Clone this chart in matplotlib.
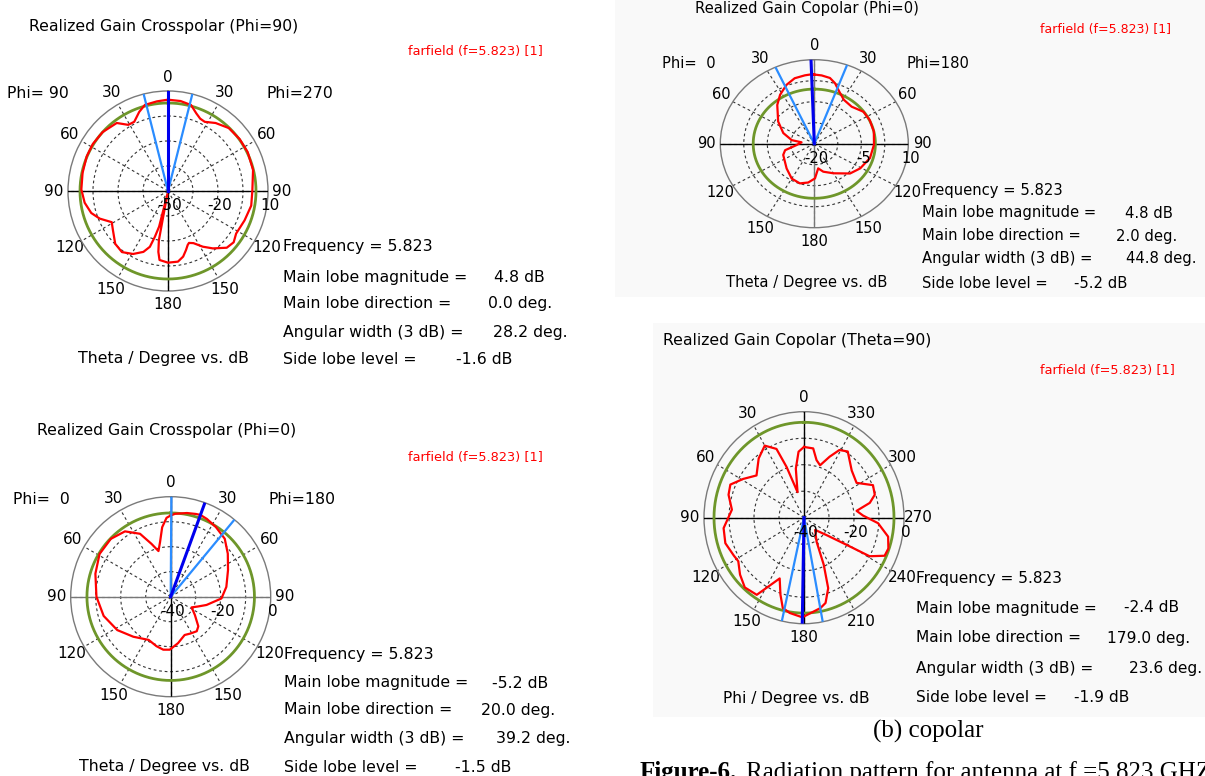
import numpy as np
import matplotlib.pyplot as plt
from matplotlib.patches import Rectangle

W, H = 1205, 776

# ---- far-field cuts: angle in degrees, realized gain in dB ----
# crosspolar, Phi=90/270 cut (theta, clockwise from the top of the plot)
theta_x90 = [0, 8, 15, 20, 24, 28, 35, 44, 54, 64,
             76, 90, 100, 111, 122, 128, 134, 142, 148, 154,
             158, 160, 163, 167, 172, 180, 187, 189, 190.5, 191.5,
             194, 196, 198, 202, 209, 217, 225, 235, 241, 248,
             254, 262, 271, 282, 293, 302, 312, 323, 329, 334,
             340, 345, 353, 360]
gain_x90 = [4.8, 4.5, 3.4, -0.4, -2.5, -3.0, -0.2, 2.5, 3.1, 3.2,
            2.6, 0.6, 0.7, -0.8, -1.8, 0.0, -1.0, -6.3, -10.6, -15.2,
            -16.4, -15.5, -13.0, -9.6, -7.2, -7.0, -8.3, -13.0, -20.0, -48.0,
            -28.0, -21.4, -14.8, -10.6, -6.8, -4.1, -5.2, -9.6, -11.4, -5.8,
            -2.1, 0.5, 2.0, 2.4, 3.0, 3.2, 2.8, 1.1, -3.7, -3.8,
            0.5, 3.5, 4.2, 4.8]

# crosspolar, Phi=0/180 cut
theta_x0 = [0, 3, 11, 17, 20, 25, 33, 43, 53, 65,
            80, 92, 103, 110, 117, 127, 137, 143, 152, 160,
            171, 181, 188, 196, 207, 223, 238, 254, 270, 287,
            301, 314, 325, 334, 340, 345, 349, 353, 357, 360]
gain_x0 = [-7.5, -6.8, -5.9, -5.4, -5.2, -5.7, -6.8, -8.3, -11.4, -14.7,
           -17.4, -19.7, -25.3, -28.5, -30.6, -27.9, -23.8, -22.7, -23.3, -23.7,
           -21.2, -18.8, -18.6, -19.4, -20.6, -18.1, -14.8, -12.1, -10.3, -8.5,
           -6.8, -6.7, -8.1, -12.0, -17.5, -21.1, -17.7, -12.0, -8.4, -7.5]

# copolar, Phi=0/180 cut
theta_c0 = [0, 5.5, 12, 17, 23, 31, 42, 54, 64.5, 77,
            91, 106, 121, 133, 150, 164, 172, 179, 188, 198,
            210, 225, 248, 256, 265, 277, 280, 291, 304.5, 319.5,
            328, 337, 345, 353, 358, 360]
gain_c0 = [4.7, 4.5, 4.0, 2.6, 0.3, -1.7, -2.2, -0.6, -0.4, -0.5,
           -0.95, -1.5, -2.9, -4.4, -7.8, -9.6, -11.1, -7.6, -6.0, -5.1,
           -5.6, -7.5, -9.3, -10.4, -14.3, -15.9, -12.7, -9.4, -6.0, -1.8,
           0.6, 2.8, 4.2, 4.6, 4.8, 4.7]

# copolar, Theta=90 cut (phi, counter-clockwise from the top)
phi_c90 = [0, 5, 10, 15, 20, 23, 30, 39, 50, 59,
           67, 74, 84, 97, 107, 117, 122, 130, 138, 147,
           157, 162, 166, 171, 179, 191, 195, 200, 204, 209,
           224, 234, 239, 241, 246, 251, 258, 266, 272, 277,
           282, 287, 294, 302, 313, 325, 331, 336, 342, 347,
           352, 360]
gain_c90 = [-13.3, -15.0, -21.2, -30.0, -19.6, -11.8, -8.6, -11.2, -15.2, -11.6,
            -8.0, -8.6, -11.0, -7.6, -7.1, -8.5, -9.0, -6.6, -4.6, -5.3,
            -15.1, -9.5, -4.9, -3.6, -2.4, -5.3, -6.7, -11.7, -20.6, -29.6,
            -33.6, -28.8, -20.1, -10.0, -4.7, -4.3, -5.6, -10.3, -16.4, -18.8,
            -13.1, -10.4, -9.8, -15.2, -13.9, -9.5, -10.8, -14.8, -19.2, -17.7,
            -13.6, -13.3]

# ---- summary values printed beside each plot ----
frequency = 5.823
main_mag = [4.8, -5.2, 4.8, -2.4]          # dB
main_dir = [0.0, 20.0, -2.0, 179.0]        # deg, sign gives the side of the plot
ang_width = [28.2, 39.2, 44.8, 23.6]       # 3 dB beamwidth, deg
side_lobe = [-1.6, -1.5, -5.2, -1.9]       # dB relative to main lobe

# radial scale (centre, outer), dashed rings, green reference ring
r_limits = [(-50, 10), (-40, 0), (-20, 10), (-40, 0)]
ring_levels = [[-35, -20, -5], [-30, -20, -10], [-12.5, -5, 2.5], [-30, -20, -10]]
radial_labels = [['-50', '-20', '10'], ['-40', '-20', '0'], ['-20', '-5', '10'], ['-40', '-20', '0']]
green_level = [2.8, -6.5, -0.5, -4.0]

theta_ticks = ['0', '30', '60', '90', '120', '150', '180', '150', '120', '90', '60', '30']
phi_ticks = [str(a) for a in range(0, 360, 30)]

titles = ['Realized Gain Crosspolar (Phi=90)', 'Realized Gain Crosspolar (Phi=0)',
          'Realized Gain Copolar (Phi=0)', 'Realized Gain Copolar (Theta=90)']

fig = plt.figure(figsize=(W / 100, H / 100), dpi=100)
fig.patch.set_facecolor('white')

CST_FONT = 'DejaVu Sans'


def put(x, y, s, size=11.3, **kw):
    # place text by pixel position measured from the top-left corner
    kw.setdefault('va', 'center')
    kw.setdefault('family', CST_FONT)
    fig.text(x / W, 1 - y / H, s, fontsize=size, **kw)


# faint screenshot background behind the two copolar plots
for x0, y0, x1, y1 in [(615, 0, 1205, 297), (653, 323, 1205, 717)]:
    fig.add_artist(Rectangle((x0 / W, 1 - y1 / H), (x1 - x0) / W, (y1 - y0) / H,
                             transform=fig.transFigure, color='#f9f9f9', zorder=0, lw=0))


def draw_panel(i, cx, cy, rx, ry, ang, gain, direction, ticks, hcol, vcol, fs, right_deg):
    ax = fig.add_axes([(cx - rx) / W, 1 - (cy + ry) / H, 2 * rx / W, 2 * ry / H],
                      projection='polar')
    ax.set_aspect('auto')
    ax.set_theta_zero_location('N')
    ax.set_theta_direction(direction)
    rmin, rmax = r_limits[i]
    ax.set_ylim(rmin, rmax)
    ax.set_yticks(ring_levels[i])
    ax.set_yticklabels([])
    ax.set_thetagrids(np.arange(0, 360, 30), ticks, fontsize=fs, family=CST_FONT)
    ax.tick_params(axis='x', pad=-0.5)
    ax.grid(True, color='#333333', linestyle=(0, (2.5, 2.5)), linewidth=0.8)
    ax.spines['polar'].set_color('#7a7a7a')
    ax.spines['polar'].set_linewidth(1.0)
    ax.patch.set_alpha(0)

    # solid axis lines through the centre
    for a, c in [(0, vcol), (180, vcol), (90, hcol), (270, hcol)]:
        ax.plot([np.radians(a)] * 2, [rmin, rmax], color=c, lw=1.0, zorder=3)

    t = np.linspace(0, 2 * np.pi, 721)
    ax.plot(t, np.full_like(t, green_level[i]), color='#6e962a', lw=2.0, zorder=4)
    ax.plot(np.radians(ang), gain, color='#ff0000', lw=1.6, zorder=5)

    # main lobe direction and 3 dB beam edges
    half = ang_width[i] / 2
    for a in (main_dir[i] - half, main_dir[i] + half):
        ax.plot([np.radians(a)] * 2, [rmin, rmax], color='#2a8cff', lw=1.6, zorder=6)
    ax.plot([np.radians(main_dir[i])] * 2, [rmin, rmax], color='#0000ee', lw=2.2, zorder=7)

    # dB values of the centre, middle ring and outer circle
    for r, lbl in zip([rmin, (rmin + rmax) / 2, rmax], radial_labels[i]):
        ax.annotate(lbl, xy=(np.radians(right_deg), r), xytext=(2, -15),
                    textcoords='offset pixels', ha='center', va='center',
                    fontsize=fs, family=CST_FONT, zorder=8, annotation_clip=False)
    return ax


draw_panel(0, 168, 191, 100, 100, theta_x90, gain_x90, -1, theta_ticks, 'black', 'black', 11, 90)
draw_panel(1, 170.7, 596.7, 100, 100, theta_x0, gain_x0, -1, theta_ticks, '#777777', 'black', 11, 90)
draw_panel(2, 814.3, 143.7, 94, 84, theta_c0, gain_c0, -1, theta_ticks, 'black', '#777777', 10.5, 90)
draw_panel(3, 804, 517.7, 100, 106, phi_c90, gain_c90, 1, phi_ticks, 'black', 'black', 11, 270)


def stats(i, x, rows, ends, fs):
    put(x, rows[0], f'Frequency = {frequency:.3f}', size=fs)
    names = ['Main lobe magnitude =', 'Main lobe direction =',
             'Angular width (3 dB) =', 'Side lobe level =']
    values = [f'{main_mag[i]:.1f} dB', f'{abs(main_dir[i]):.1f} deg.',
              f'{ang_width[i]:.1f} deg.', f'{side_lobe[i]:.1f} dB']
    for y, n, v, e in zip(rows[1:], names, values, ends):
        put(x, y, n, size=fs)
        put(e, y, v, size=fs, ha='right')


# crosspolar Phi=90
put(29, 26, titles[0])
put(408, 52, 'farfield (f=5.823) [1]', size=9.3, color='red')
put(7, 94, 'Phi= 90')
put(266, 94, 'Phi=270')
stats(0, 283, [247, 277, 304, 332, 359], [545, 552, 568, 512], 11.3)
put(78, 359, 'Theta / Degree vs. dB')

# crosspolar Phi=0
put(37, 430, titles[1])
put(408, 458, 'farfield (f=5.823) [1]', size=9.3, color='red')
put(13, 499, 'Phi=  0')
put(268, 499, 'Phi=180')
stats(1, 284, [654, 683, 710, 738, 767], [548, 555, 570, 511], 11.3)
put(79, 767, 'Theta / Degree vs. dB')

# copolar Phi=0
put(695, 9, titles[2], size=10.6)
put(1040, 29, 'farfield (f=5.823) [1]', size=9.0, color='red')
put(662, 63, 'Phi=  0', size=10.6)
put(906, 63, 'Phi=180', size=10.6)
stats(2, 922, [190, 213, 236, 259, 283], [1173, 1177, 1196, 1127], 10.6)
put(726, 283, 'Theta / Degree vs. dB', size=10.6)

# copolar Theta=90
put(663, 340, titles[3])
put(1040, 370, 'farfield (f=5.823) [1]', size=9.3, color='red')
stats(3, 916, [578, 608, 638, 668, 698], [1179, 1190, 1202, 1129], 11.1)
put(723, 698, 'Phi / Degree vs. dB', size=11.1)

# captions
put(928, 731, '(b) copolar', size=18, family='Liberation Serif', ha='center')
put(640, 779, 'Figure-6.', size=18, family='Liberation Serif', weight='bold', va='baseline')
put(746, 779, 'Radiation pattern for antenna at f =5.823 GHZ', size=18,
    family='Liberation Serif', va='baseline')

fig.savefig('out.png', dpi=100)
